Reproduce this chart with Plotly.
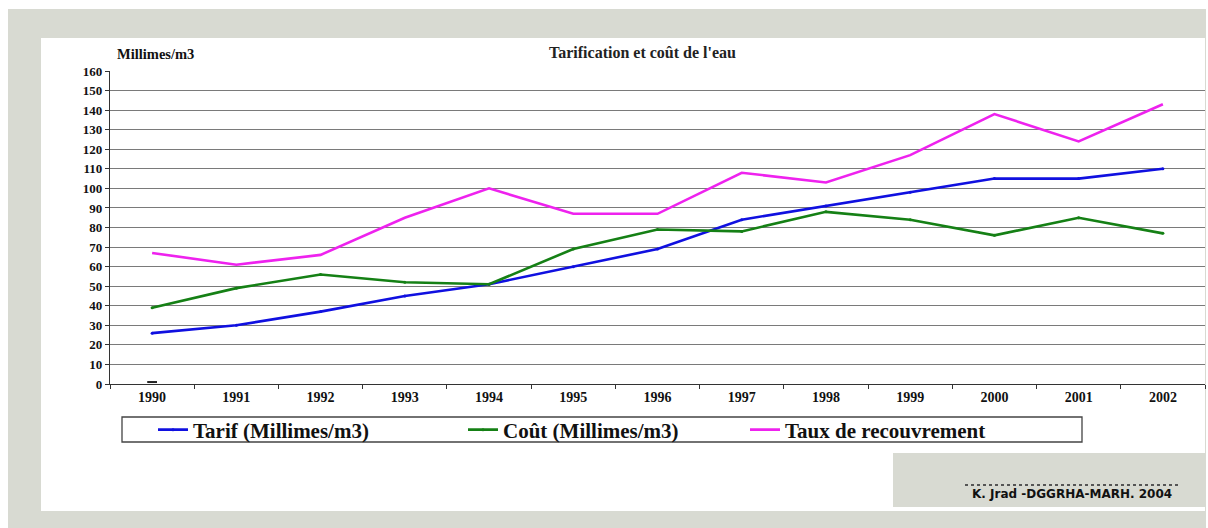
import plotly.graph_objects as go

years = ["1990", "1991", "1992", "1993", "1994", "1995", "1996",
         "1997", "1998", "1999", "2000", "2001", "2002"]
tarif = [26, 30, 37, 45, 51, 60, 69, 84, 91, 98, 105, 105, 110]
cout = [39, 49, 56, 52, 51, 69, 79, 78, 88, 84, 76, 85, 77]
taux = [67, 61, 66, 85, 100, 87, 87, 108, 103, 117, 138, 124, 143]
stray_x = ["1990"]
stray_y = [1]
y_ticks = list(range(0, 161, 10))

W, H = 1208, 528
L, R, T, B = 110, 1205, 71, 384
PW, PH = R - L, B - T


def px(x):
    return (x - L) / PW


def py(y):
    return (B - y) / PH


GRAY = "#d8dad2"
SERIF = "Liberation Serif"

fig = go.Figure()
fig.add_trace(go.Scatter(x=years, y=tarif, name="Tarif (Millimes/m3)", mode="lines+markers",
                         line=dict(color="#1010e0", width=2.6), marker=dict(size=3, color="#1010e0"),
                         legend="legend"))
fig.add_trace(go.Scatter(x=years, y=cout, name="Coût (Millimes/m3)", mode="lines+markers",
                         line=dict(color="#158015", width=2.6), marker=dict(size=3, color="#158015"),
                         legend="legend2"))
fig.add_trace(go.Scatter(x=years, y=taux, name="Taux de recouvrement", mode="lines",
                         line=dict(color="#ee22ee", width=2.6), legend="legend3"))
fig.add_trace(go.Scatter(x=stray_x, y=stray_y, mode="markers", showlegend=False,
                         marker=dict(symbol="line-ew", size=7, line=dict(width=2, color="#222"))))

shapes = [
    dict(type="rect", xref="paper", yref="paper", x0=px(8), x1=px(1206), y0=py(9), y1=py(528),
         fillcolor=GRAY, line=dict(width=0), layer="below"),
    dict(type="rect", xref="paper", yref="paper", x0=px(41), x1=px(1205), y0=py(38), y1=py(511),
         fillcolor="white", line=dict(width=0), layer="below"),
    dict(type="rect", xref="paper", yref="paper", x0=px(893), x1=px(1206), y0=py(453), y1=py(507),
         fillcolor=GRAY, line=dict(width=0), layer="below"),
    dict(type="line", xref="paper", yref="paper", x0=px(965), x1=px(1180), y0=py(485), y1=py(485),
         line=dict(color="#555", width=2, dash="dot")),
    dict(type="rect", xref="paper", yref="paper", x0=px(122), x1=px(1082), y0=py(417), y1=py(442),
         fillcolor="rgba(0,0,0,0)", line=dict(color="#444", width=1.3)),
]

annotations = [
    dict(text="Tarification et coût de l'eau", xref="paper", yref="paper", x=px(642), y=py(52),
         xanchor="center", yanchor="middle", showarrow=False,
         font=dict(family=SERIF, size=16, color="#222", weight="bold")),
    dict(text="Millimes/m3", xref="paper", yref="paper", x=px(115), y=py(54),
         xanchor="left", yanchor="middle", showarrow=False,
         font=dict(family=SERIF, size=14.5, color="#111", weight="bold")),
    dict(text="K. Jrad -DGGRHA-MARH. 2004", xref="paper", yref="paper", x=px(1072), y=py(494),
         xanchor="center", yanchor="middle", showarrow=False,
         font=dict(family="DejaVu Sans", size=12, color="#111", weight="bold")),
]

leg_font = dict(family=SERIF, size=21, color="#111", weight="bold")


def legend_at(x_line):
    return dict(x=px(x_line - 5), y=py(430), xanchor="left", yanchor="middle",
                orientation="h", bgcolor="rgba(0,0,0,0)", borderwidth=0,
                font=leg_font, itemwidth=30, tracegroupgap=0)


fig.update_layout(
    width=W, height=H,
    margin=dict(l=L, r=W - R, t=T, b=H - B, pad=0),
    paper_bgcolor="white",
    plot_bgcolor="rgba(0,0,0,0)",
    shapes=shapes,
    annotations=annotations,
    showlegend=True,
    legend=legend_at(158),
    legend2=legend_at(468),
    legend3=legend_at(750),
    xaxis=dict(type="category", categoryorder="array", categoryarray=years,
               range=[-0.5, 12.5], showgrid=False, showline=True, linecolor="#333", linewidth=1.2,
               ticks="outside", tickson="boundaries", ticklen=4, tickcolor="#333",
               tickfont=dict(family=SERIF, size=14, color="#111", weight="bold"),
               zeroline=False, fixedrange=True),
    yaxis=dict(range=[0, 160], tickvals=y_ticks, showgrid=True, gridcolor="#7a7a7a", gridwidth=1.2,
               showline=True, linecolor="#333", linewidth=1.2, ticks="outside", ticklen=4,
               tickcolor="#333", tickfont=dict(family=SERIF, size=13, color="#111", weight="bold"),
               zeroline=False, fixedrange=True),
)

fig.write_html("out.html")
